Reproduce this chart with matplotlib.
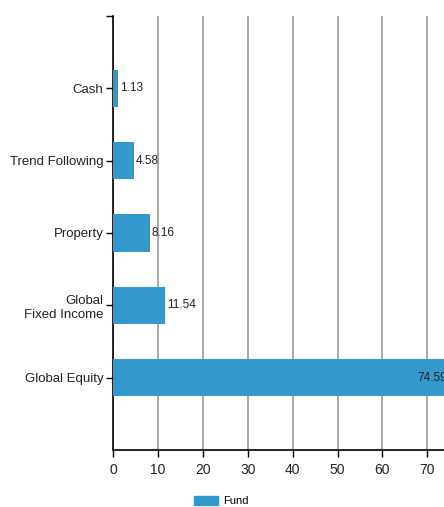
import matplotlib
matplotlib.use("Agg")
import matplotlib.pyplot as plt
from matplotlib.patches import Patch

plt.rcParams['font.family'] = ['Liberation Sans', 'DejaVu Sans']

categories = ['Global Equity', 'Global\nFixed Income', 'Property', 'Trend Following', 'Cash']
values = [74.59, 11.54, 8.16, 4.58, 1.13]
xticks = [0, 10, 20, 30, 40, 50, 60, 70]
bar_color = '#3399cc'

fig = plt.figure(figsize=(4.44, 5.07), dpi=100)
ax = fig.add_axes([113/444, 1-450/507, 1-113/444, (450-16)/507])

ypos = list(range(len(categories)))
ax.barh(ypos, values, height=0.52, color=bar_color, zorder=3)

# value labels; the largest one sits inside the bar end
for y, v in zip(ypos, values):
    if v > 70:
        ax.text(v - 0.3, y, f'{v:.2f}', ha='right', va='center', fontsize=8.5, color='#222222', zorder=4)
    else:
        ax.text(v + 0.4, y, f'{v:.2f}', ha='left', va='center', fontsize=8.5, color='#222222', zorder=4)

ax.set_xlim(0, 73.7)
ax.set_ylim(-1, 5)
ax.set_yticks(ypos)
ax.set_yticklabels(categories, fontsize=9.5, color='#222222')
ax.set_yticks([5], minor=True)
ax.set_xticks(xticks)
ax.set_xticklabels([str(t) for t in xticks], fontsize=10, color='#222222')
ax.xaxis.grid(True, color='#999999', linewidth=1.2, zorder=0)
ax.tick_params(axis='y', which='both', length=5, width=1, pad=2)
ax.tick_params(axis='x', length=5, width=1, pad=4)
for s in ['top', 'right']:
    ax.spines[s].set_visible(False)
ax.spines['left'].set_linewidth(1.2)
ax.spines['bottom'].set_linewidth(1.2)

fig.legend(handles=[Patch(color=bar_color, label='Fund')], loc='center',
           bbox_to_anchor=(221/444, 1-501/507), frameon=False, fontsize=8,
           handlelength=2.2, handleheight=0.9, handletextpad=0.4)

fig.savefig('out.png', dpi=100)
